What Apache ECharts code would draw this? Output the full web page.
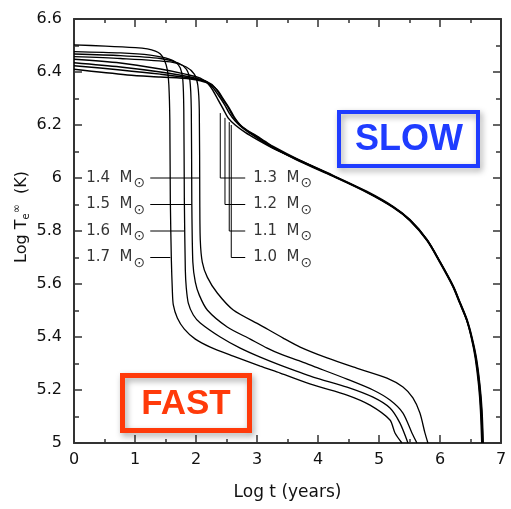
<!DOCTYPE html>
<html>
<head>
<meta charset="utf-8">
<script src="https://cdn.jsdelivr.net/npm/echarts@6/dist/echarts.min.js"></script>
<style>html,body{margin:0;padding:0;background:#fff;}#c{width:511px;height:509px;}</style>
</head>
<body>
<div id="c"></div>
<script>
// ---- data (Log t [years], Log Te [K]) ----
const fast17 = [[0,6.502],[0.516,6.498],[1.007,6.492],[1.203,6.487],[1.334,6.479],[1.416,6.468],[1.481,6.445],[1.530,6.408],[1.555,6.351],[1.571,6.219],[1.579,5.917],[1.596,5.691],[1.612,5.577],[1.628,5.521],[1.694,5.472],[1.809,5.430],[1.989,5.392],[2.234,5.362],[2.611,5.328],[3.053,5.290],[3.380,5.264],[3.920,5.219],[4.476,5.181],[4.853,5.143],[5.180,5.087],[5.262,5.038],[5.376,5.0]];
const fast16 = [[0,6.477],[0.761,6.472],[1.252,6.464],[1.498,6.453],[1.661,6.438],[1.743,6.415],[1.784,6.370],[1.800,6.257],[1.809,5.917],[1.825,5.653],[1.841,5.585],[1.874,5.528],[1.956,5.483],[2.070,5.453],[2.398,5.400],[2.725,5.358],[3.053,5.324],[3.380,5.294],[3.920,5.249],[4.476,5.211],[4.902,5.173],[5.180,5.132],[5.344,5.075],[5.475,5.0]];
const fast15 = [[0,6.468],[0.761,6.462],[1.416,6.451],[1.710,6.434],[1.841,6.411],[1.899,6.370],[1.923,6.257],[1.931,5.917],[1.948,5.683],[1.989,5.607],[2.054,5.558],[2.185,5.502],[2.512,5.438],[2.889,5.392],[3.167,5.358],[3.380,5.336],[3.707,5.309],[3.920,5.290],[4.476,5.241],[4.902,5.200],[5.180,5.162],[5.393,5.113],[5.540,5.038],[5.622,5.0]];
const fast14 = [[0,6.458],[0.761,6.451],[1.579,6.438],[1.841,6.419],[1.972,6.392],[2.029,6.351],[2.054,6.257],[2.062,5.917],[2.070,5.766],[2.103,5.683],[2.185,5.626],[2.349,5.566],[2.611,5.502],[3.053,5.445],[3.429,5.396],[3.707,5.362],[4.149,5.321],[4.574,5.287],[5.131,5.245],[5.393,5.211],[5.556,5.170],[5.671,5.113],[5.753,5.038],[5.802,5.0]];
const slow13 = [[0,6.448],[0.761,6.434],[1.416,6.411],[1.825,6.392],[2.070,6.377],[2.201,6.355],[2.283,6.328],[2.365,6.294],[2.447,6.260],[2.529,6.226],[2.643,6.200],[2.807,6.172],[3.003,6.145],[3.265,6.112],[3.707,6.064],[4.247,6.008],[4.804,5.947],[5.229,5.891],[5.507,5.841],[5.786,5.766],[5.998,5.683],[6.211,5.592],[6.326,5.528],[6.437,5.464],[6.515,5.396],[6.578,5.321],[6.633,5.219],[6.664,5.124],[6.685,5.0]];
const slow12 = [[0,6.435],[0.761,6.419],[1.416,6.400],[1.907,6.381],[2.152,6.366],[2.267,6.343],[2.365,6.313],[2.463,6.279],[2.545,6.245],[2.643,6.215],[2.758,6.190],[2.889,6.168],[3.053,6.143],[3.265,6.113],[3.707,6.066],[4.247,6.010],[4.804,5.949],[5.229,5.893],[5.507,5.843],[5.786,5.768],[6.000,5.684],[6.215,5.592],[6.330,5.528],[6.441,5.464],[6.520,5.396],[6.585,5.321],[6.641,5.219],[6.673,5.124],[6.694,5.0]];
const slow11 = [[0,6.424],[0.761,6.408],[1.416,6.392],[1.907,6.377],[2.185,6.362],[2.316,6.340],[2.414,6.306],[2.512,6.272],[2.594,6.238],[2.692,6.208],[2.807,6.184],[2.954,6.162],[3.101,6.140],[3.265,6.116],[3.707,6.062],[4.247,6.006],[4.804,5.945],[5.229,5.889],[5.507,5.839],[5.786,5.764],[5.996,5.682],[6.207,5.592],[6.322,5.528],[6.436,5.464],[6.522,5.396],[6.590,5.321],[6.648,5.219],[6.680,5.124],[6.702,5.0]];
const slow10 = [[0,6.410],[0.876,6.389],[1.416,6.381],[1.907,6.374],[2.201,6.358],[2.349,6.332],[2.447,6.298],[2.545,6.264],[2.627,6.230],[2.725,6.200],[2.840,6.180],[2.987,6.160],[3.134,6.138],[3.265,6.119],[3.707,6.066],[4.247,6.008],[4.804,5.947],[5.229,5.891],[5.507,5.841],[5.790,5.766],[6.003,5.683],[6.218,5.592],[6.334,5.528],[6.446,5.464],[6.528,5.396],[6.596,5.321],[6.654,5.219],[6.688,5.124],[6.708,5.0]];

// ---- annotation data ----
const leftMasses = ['1.4','1.5','1.6','1.7'];
const leftLabelY = [6.0, 5.9, 5.8, 5.7];
const leftLeaderStartX = 1.25;
const leftLeaderEndX = [2.062, 1.931, 1.809, 1.58];
const rightMasses = ['1.3','1.2','1.1','1.0'];
const rightLabelY = [6.0, 5.9, 5.8, 5.7];
const rightLeaderX = [2.398, 2.475, 2.545, 2.578];
const rightLeaderTopY = [6.245, 6.227, 6.211, 6.2];
const rightLeaderEndX = 2.807;

const xName = 'Log t (years)';
const fastCurves = [fast17, fast16, fast15, fast14];
const slowCurves = [slow13, slow12, slow11, slow10];

const FONT = 'DejaVu Sans';
const axisCol = '#333';

const series = [];
fastCurves.forEach(d => series.push({
  type: 'line', data: d, showSymbol: false, smooth: 0.25, silent: true,
  lineStyle: { color: '#000', width: 1.3 }, z: 3
}));
slowCurves.forEach(d => series.push({
  type: 'line', data: d, showSymbol: false, smooth: 0.3, silent: true,
  lineStyle: { color: '#000', width: 1.5 }, z: 3
}));
leftMasses.forEach((m, i) => series.push({
  type: 'line', showSymbol: false, silent: true,
  data: [[leftLeaderStartX, leftLabelY[i]], [leftLeaderEndX[i], leftLabelY[i]]],
  lineStyle: { color: '#000', width: 1 }, z: 2
}));
rightMasses.forEach((m, i) => series.push({
  type: 'line', showSymbol: false, silent: true,
  data: [[rightLeaderX[i], rightLeaderTopY[i]], [rightLeaderX[i], rightLabelY[i]], [rightLeaderEndX, rightLabelY[i]]],
  lineStyle: { color: '#000', width: 1 }, z: 2
}));
const labelRich = {
  a: { fontFamily: FONT, fontSize: 15, color: '#000', verticalAlign: 'middle', lineHeight: 18 },
  s: { fontFamily: FONT, fontSize: 14, color: '#000', verticalAlign: 'middle', padding: [11, 0, 0, 1] }
};
series.push({
  type: 'scatter', symbolSize: 0, silent: true,
  data: leftMasses.map((m, i) => ({ name: m, value: [leftLeaderStartX, leftLabelY[i]] })),
  label: { show: true, position: 'left', distance: 5, formatter: p => '{a|' + p.name + '  M}{s|⊙}', rich: labelRich }
});
series.push({
  type: 'scatter', symbolSize: 0, silent: true,
  data: rightMasses.map((m, i) => ({ name: m, value: [rightLeaderEndX, rightLabelY[i]] })),
  label: { show: true, position: 'right', distance: 8, formatter: p => '{a|' + p.name + '  M}{s|⊙}', rich: labelRich }
});

function xAx(pos, showLabel) {
  return {
    type: 'value', position: pos, min: 0, max: 7, interval: 1,
    name: showLabel ? xName : '', nameLocation: 'middle', nameGap: 41,
    nameTextStyle: { fontFamily: FONT, fontSize: 17, color: '#111' },
    axisLine: { show: true, onZero: false, lineStyle: { color: axisCol, width: 2 } },
    axisTick: { show: true, inside: true, length: 8, lineStyle: { color: axisCol, width: 1.5 } },
    minorTick: { show: true, splitNumber: 2, length: 4, lineStyle: { color: axisCol, width: 1.5 } },
    axisLabel: { show: showLabel, margin: 9, fontFamily: FONT, fontSize: 16, color: '#111' },
    splitLine: { show: false }
  };
}
function yAx(pos, showLabel) {
  return {
    type: 'value', position: pos, min: 5, max: 6.6, interval: 0.2,
    axisLine: { show: true, onZero: false, lineStyle: { color: axisCol, width: 2 } },
    axisTick: { show: true, inside: true, length: 8, lineStyle: { color: axisCol, width: 1.5 } },
    minorTick: { show: true, splitNumber: 2, length: 5, lineStyle: { color: axisCol, width: 1.5 } },
    axisLabel: { show: showLabel, margin: 12, fontFamily: FONT, fontSize: 16, color: '#111' },
    splitLine: { show: false }
  };
}

const chart = echarts.init(document.getElementById('c'), null, { renderer: 'canvas' });
chart.setOption({
  animation: false,
  backgroundColor: '#fff',
  grid: { left: 74, right: 10, top: 19, bottom: 66 },
  xAxis: [xAx('bottom', true), xAx('top', false)],
  yAxis: [yAx('left', true), yAx('right', false)],
  series: series,
  graphic: [
    { type: 'text', x: 22, y: 217, rotation: Math.PI / 2, z: 5,
      style: { text: 'Log T{e|e}{i|∞}  (K)', fontFamily: FONT, fontSize: 16, fill: '#111',
               align: 'center', verticalAlign: 'middle',
               rich: { e: { fontFamily: FONT, fontSize: 10, fill: '#111', padding: [8, 0, 0, 0] },
                       i: { fontFamily: FONT, fontSize: 11, fill: '#111', padding: [0, 0, 9, 0] } } } },
    { type: 'rect', shape: { x: 339, y: 112, width: 139, height: 54 }, z: 10,
      style: { fill: 'rgba(0,0,0,0)', stroke: '#1f3cff', lineWidth: 4,
               shadowBlur: 6, shadowColor: 'rgba(0,0,0,0.35)', shadowOffsetX: 2, shadowOffsetY: 3 } },
    { type: 'text', x: 409, y: 140, z: 11,
      style: { text: 'SLOW', fill: '#1f3cff', font: 'bold 36px "Liberation Sans", Arial, sans-serif',
               align: 'center', verticalAlign: 'middle',
               shadowBlur: 5, shadowColor: 'rgba(0,0,0,0.35)', shadowOffsetX: 2, shadowOffsetY: 3 } },
    { type: 'rect', shape: { x: 122.5, y: 375.5, width: 127, height: 55 }, z: 10,
      style: { fill: 'rgba(0,0,0,0)', stroke: '#ff3a0a', lineWidth: 5,
               shadowBlur: 6, shadowColor: 'rgba(0,0,0,0.35)', shadowOffsetX: 2, shadowOffsetY: 3 } },
    { type: 'text', x: 186, y: 404, z: 11,
      style: { text: 'FAST', fill: '#ff3a0a', font: 'bold 35px "Liberation Sans", Arial, sans-serif',
               align: 'center', verticalAlign: 'middle',
               shadowBlur: 5, shadowColor: 'rgba(0,0,0,0.35)', shadowOffsetX: 2, shadowOffsetY: 3 } }
  ]
});
</script>
</body>
</html>
